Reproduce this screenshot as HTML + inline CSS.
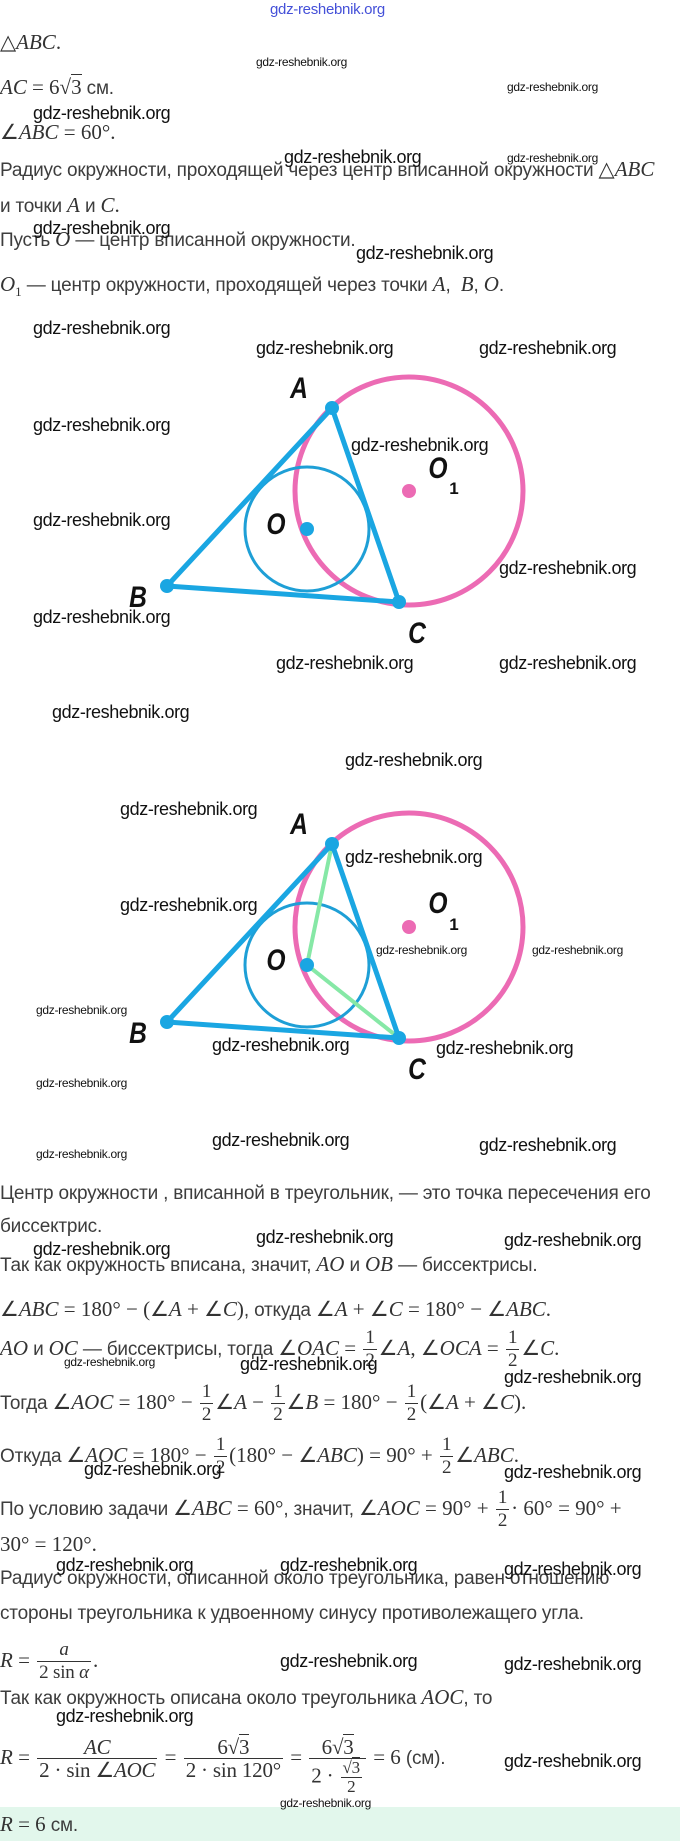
<!DOCTYPE html>
<html><head><meta charset="utf-8">
<style>
html,body{margin:0;padding:0;background:#fff;}
body{width:680px;height:1841px;position:relative;overflow:hidden;}
.t{position:absolute;left:0;font-family:"Liberation Sans",sans-serif;font-size:19px;color:#3d3d3d;white-space:nowrap;line-height:22px;letter-spacing:-0.2px;}
.m{font-family:"Liberation Serif",serif;font-style:italic;font-size:21px;color:#333;letter-spacing:0;}
.n{font-family:"Liberation Serif",serif;font-size:21px;color:#333;letter-spacing:0;}
.fr{display:inline-block;vertical-align:middle;text-align:center;font-family:"Liberation Serif",serif;font-size:19px;color:#333;line-height:22px;margin:0 2px;}
.fr>span{display:block;padding:0 2px;}
.fr>span.top{border-bottom:1px solid #333;}
.sq{border-top:1px solid #333;}
.w{position:absolute;font-family:"Liberation Sans",sans-serif;font-size:18px;color:#111;white-space:nowrap;letter-spacing:-0.4px;line-height:20px;}
.ws{position:absolute;font-family:"Liberation Sans",sans-serif;font-size:12px;color:#111;white-space:nowrap;letter-spacing:-0.3px;line-height:14px;}
svg{position:absolute;left:0;top:0;}
.lb{font-family:"Liberation Sans",sans-serif;font-weight:bold;font-style:italic;font-size:30px;fill:#111;}
</style></head><body>
<div style="position:absolute;left:0;top:1807px;width:680px;height:34px;background:#e2f7ec;"></div>

<div class="ws" style="left:270px;top:3px;font-size:15px;color:#4450d8;">gdz-reshebnik.org</div>

<div class="t" style="top:31px"><span class="n">△</span><span class="m">ABC</span><span class="n">.</span></div>
<div class="t" style="top:76px"><span class="m">AC</span> <span class="n">= 6√<span class="sq">3</span></span> см.</div>
<div class="t" style="top:121px"><span class="n">∠</span><span class="m">ABC</span><span class="n"> = 60°.</span></div>
<div class="t" style="top:158px">Радиус окружности, проходящей через центр вписанной окружности <span class="n">△</span><span class="m">ABC</span></div>
<div class="t" style="top:194px">и точки <span class="m">A</span> и <span class="m">C</span><span class="n">.</span></div>
<div class="t" style="top:228px">Пусть <span class="m">O</span> — центр вписанной окружности.</div>
<div class="t" style="top:273px"><span class="m">O</span><sub class="n" style="font-size:13px">1</sub> — центр окружности, проходящей через точки <span class="m">A</span>,&nbsp; <span class="m">B</span>, <span class="m">O</span>.</div>

<div class="t" style="top:1183px">Центр окружности , вписанной в треугольник, — это точка пересечения его</div>
<div class="t" style="top:1216px">биссектрис.</div>
<div class="t" style="top:1253px">Так как окружность вписана, значит, <span class="m">AO</span> и <span class="m">OB</span> — биссектрисы.</div>
<div class="t" style="top:1298px"><span class="n">∠</span><span class="m">ABC</span><span class="n"> = 180° − (∠</span><span class="m">A</span><span class="n"> + ∠</span><span class="m">C</span><span class="n">)</span>, откуда <span class="n">∠</span><span class="m">A</span><span class="n"> + ∠</span><span class="m">C</span><span class="n"> = 180° − ∠</span><span class="m">ABC</span><span class="n">.</span></div>
<div class="t" style="top:1325px;line-height:46px"><span class="m">AO</span> и <span class="m">OC</span> — биссектрисы, тогда <span class="n">∠</span><span class="m">OAC</span><span class="n"> = </span><span class="fr"><span class="top">1</span><span>2</span></span><span class="n">∠</span><span class="m">A</span><span class="n">, ∠</span><span class="m">OCA</span><span class="n"> = </span><span class="fr"><span class="top">1</span><span>2</span></span><span class="n">∠</span><span class="m">C</span><span class="n">.</span></div>
<div class="t" style="top:1379px;line-height:46px">Тогда <span class="n">∠</span><span class="m">AOC</span><span class="n"> = 180° − </span><span class="fr"><span class="top">1</span><span>2</span></span><span class="n">∠</span><span class="m">A</span><span class="n"> − </span><span class="fr"><span class="top">1</span><span>2</span></span><span class="n">∠</span><span class="m">B</span><span class="n"> = 180° − </span><span class="fr"><span class="top">1</span><span>2</span></span><span class="n">(∠</span><span class="m">A</span><span class="n"> + ∠</span><span class="m">C</span><span class="n">).</span></div>
<div class="t" style="top:1432px;line-height:46px">Откуда <span class="n">∠</span><span class="m">AOC</span><span class="n"> = 180° − </span><span class="fr"><span class="top">1</span><span>2</span></span><span class="n">(180° − ∠</span><span class="m">ABC</span><span class="n">) = 90° + </span><span class="fr"><span class="top">1</span><span>2</span></span><span class="n">∠</span><span class="m">ABC</span><span class="n">.</span></div>
<div class="t" style="top:1485px;line-height:46px">По условию задачи <span class="n">∠</span><span class="m">ABC</span><span class="n"> = 60°</span>, значит, <span class="n">∠</span><span class="m">AOC</span><span class="n"> = 90° + </span><span class="fr"><span class="top">1</span><span>2</span></span><span class="n">· 60° = 90° +</span></div>
<div class="t" style="top:1533px"><span class="n">30° = 120°.</span></div>
<div class="t" style="top:1568px">Радиус окружности, описанной около треугольника, равен отношению</div>
<div class="t" style="top:1603px">стороны треугольника к удвоенному синусу противолежащего угла.</div>
<div class="t" style="top:1637px;line-height:46px"><span class="m">R</span><span class="n"> = </span><span class="fr"><span class="top"><i>a</i></span><span>2 sin <i>α</i></span></span><span class="n">.</span></div>
<div class="t" style="top:1686px">Так как окружность описана около треугольника <span class="m">AOC</span>, то</div>
<div class="t" style="top:1722px;line-height:70px"><span class="m">R</span><span class="n"> = </span><span class="fr" style="font-size:21px"><span class="top"><i>AC</i></span><span>2 · sin ∠<i>AOC</i></span></span><span class="n"> = </span><span class="fr" style="font-size:21px"><span class="top">6√<span class="sq">3</span></span><span>2 · sin 120°</span></span><span class="n"> = </span><span class="fr" style="font-size:21px;vertical-align:-18px"><span class="top">6√<span class="sq">3</span></span><span>2 · <span class="fr" style="font-size:17px;vertical-align:middle;line-height:18px"><span class="top">√<span class="sq">3</span></span><span>2</span></span></span></span><span class="n"> = 6</span> (см).</div>
<div class="t" style="top:1813px"><span class="m">R</span><span class="n"> = 6</span> см.</div>

<svg width="680" height="1841" viewBox="0 0 680 1841">
 <g fill="none">
  <circle cx="409" cy="491" r="114" stroke="#ec6bb4" stroke-width="5"/>
  <circle cx="307" cy="529" r="62" stroke="#1e9fd6" stroke-width="3"/>
  <polygon points="332,408 167,586 399,602" stroke="#1aa6e2" stroke-width="5" stroke-linejoin="round"/>
 </g>
 <circle cx="409" cy="491" r="7" fill="#ec6bb4"/>
 <circle cx="307" cy="529" r="7" fill="#1aa6e2"/>
 <circle cx="332" cy="408" r="7" fill="#1aa6e2"/>
 <circle cx="167" cy="586" r="7" fill="#1aa6e2"/>
 <circle cx="399" cy="602" r="7" fill="#1aa6e2"/>
 <g class="lb" text-anchor="middle">
  <text transform="translate(299,398) scale(0.82,1)">A</text>
  <text transform="translate(276,534) scale(0.82,1)">O</text>
  <text transform="translate(438,478) scale(0.82,1)">O</text>
  <text transform="translate(138,607) scale(0.82,1)">B</text>
  <text transform="translate(417,643) scale(0.82,1)">C</text>
 </g>
 <text x="454" y="494" font-family="Liberation Sans, sans-serif" font-size="17" font-weight="bold" fill="#111" text-anchor="middle">1</text>

 <g fill="none">
  <circle cx="409" cy="927" r="114" stroke="#ec6bb4" stroke-width="5"/>
  <circle cx="307" cy="965" r="62" stroke="#1e9fd6" stroke-width="3"/>
  <polyline points="332,844 307,965 399,1038" stroke="#86e8a6" stroke-width="4"/>
  <polygon points="332,844 167,1022 399,1038" stroke="#1aa6e2" stroke-width="5" stroke-linejoin="round"/>
 </g>
 <circle cx="409" cy="927" r="7" fill="#ec6bb4"/>
 <circle cx="307" cy="965" r="7" fill="#1aa6e2"/>
 <circle cx="332" cy="844" r="7" fill="#1aa6e2"/>
 <circle cx="167" cy="1022" r="7" fill="#1aa6e2"/>
 <circle cx="399" cy="1038" r="7" fill="#1aa6e2"/>
 <g class="lb" text-anchor="middle">
  <text transform="translate(299,834) scale(0.82,1)">A</text>
  <text transform="translate(276,970) scale(0.82,1)">O</text>
  <text transform="translate(438,913) scale(0.82,1)">O</text>
  <text transform="translate(138,1043) scale(0.82,1)">B</text>
  <text transform="translate(417,1079) scale(0.82,1)">C</text>
 </g>
 <text x="454" y="930" font-family="Liberation Sans, sans-serif" font-size="17" font-weight="bold" fill="#111" text-anchor="middle">1</text>
</svg>

<div class="ws" style="left:256px;top:55px">gdz-reshebnik.org</div>
<div class="ws" style="left:507px;top:80px">gdz-reshebnik.org</div>
<div class="w" style="left:33px;top:103px">gdz-reshebnik.org</div>
<div class="w" style="left:284px;top:147px">gdz-reshebnik.org</div>
<div class="ws" style="left:507px;top:151px">gdz-reshebnik.org</div>
<div class="w" style="left:33px;top:218px">gdz-reshebnik.org</div>
<div class="w" style="left:356px;top:243px">gdz-reshebnik.org</div>
<div class="w" style="left:33px;top:318px">gdz-reshebnik.org</div>
<div class="w" style="left:256px;top:338px">gdz-reshebnik.org</div>
<div class="w" style="left:479px;top:338px">gdz-reshebnik.org</div>
<div class="w" style="left:33px;top:415px">gdz-reshebnik.org</div>
<div class="w" style="left:351px;top:435px">gdz-reshebnik.org</div>
<div class="w" style="left:33px;top:510px">gdz-reshebnik.org</div>
<div class="w" style="left:499px;top:558px">gdz-reshebnik.org</div>
<div class="w" style="left:33px;top:607px">gdz-reshebnik.org</div>
<div class="w" style="left:276px;top:653px">gdz-reshebnik.org</div>
<div class="w" style="left:499px;top:653px">gdz-reshebnik.org</div>
<div class="w" style="left:52px;top:702px">gdz-reshebnik.org</div>
<div class="w" style="left:345px;top:750px">gdz-reshebnik.org</div>
<div class="w" style="left:120px;top:799px">gdz-reshebnik.org</div>
<div class="w" style="left:345px;top:847px">gdz-reshebnik.org</div>
<div class="w" style="left:120px;top:895px">gdz-reshebnik.org</div>
<div class="ws" style="left:376px;top:943px">gdz-reshebnik.org</div>
<div class="ws" style="left:532px;top:943px">gdz-reshebnik.org</div>
<div class="ws" style="left:36px;top:1003px">gdz-reshebnik.org</div>
<div class="w" style="left:212px;top:1035px">gdz-reshebnik.org</div>
<div class="w" style="left:436px;top:1038px">gdz-reshebnik.org</div>
<div class="ws" style="left:36px;top:1076px">gdz-reshebnik.org</div>
<div class="w" style="left:212px;top:1130px">gdz-reshebnik.org</div>
<div class="w" style="left:479px;top:1135px">gdz-reshebnik.org</div>
<div class="ws" style="left:36px;top:1147px">gdz-reshebnik.org</div>
<div class="w" style="left:256px;top:1227px">gdz-reshebnik.org</div>
<div class="w" style="left:504px;top:1230px">gdz-reshebnik.org</div>
<div class="w" style="left:33px;top:1239px">gdz-reshebnik.org</div>
<div class="ws" style="left:64px;top:1355px">gdz-reshebnik.org</div>
<div class="w" style="left:240px;top:1354px">gdz-reshebnik.org</div>
<div class="w" style="left:504px;top:1367px">gdz-reshebnik.org</div>
<div class="w" style="left:84px;top:1459px">gdz-reshebnik.org</div>
<div class="w" style="left:504px;top:1462px">gdz-reshebnik.org</div>
<div class="w" style="left:56px;top:1555px">gdz-reshebnik.org</div>
<div class="w" style="left:280px;top:1555px">gdz-reshebnik.org</div>
<div class="w" style="left:504px;top:1559px">gdz-reshebnik.org</div>
<div class="w" style="left:280px;top:1651px">gdz-reshebnik.org</div>
<div class="w" style="left:504px;top:1654px">gdz-reshebnik.org</div>
<div class="w" style="left:56px;top:1706px">gdz-reshebnik.org</div>
<div class="w" style="left:504px;top:1751px">gdz-reshebnik.org</div>
<div class="ws" style="left:280px;top:1796px">gdz-reshebnik.org</div>
</body></html>
